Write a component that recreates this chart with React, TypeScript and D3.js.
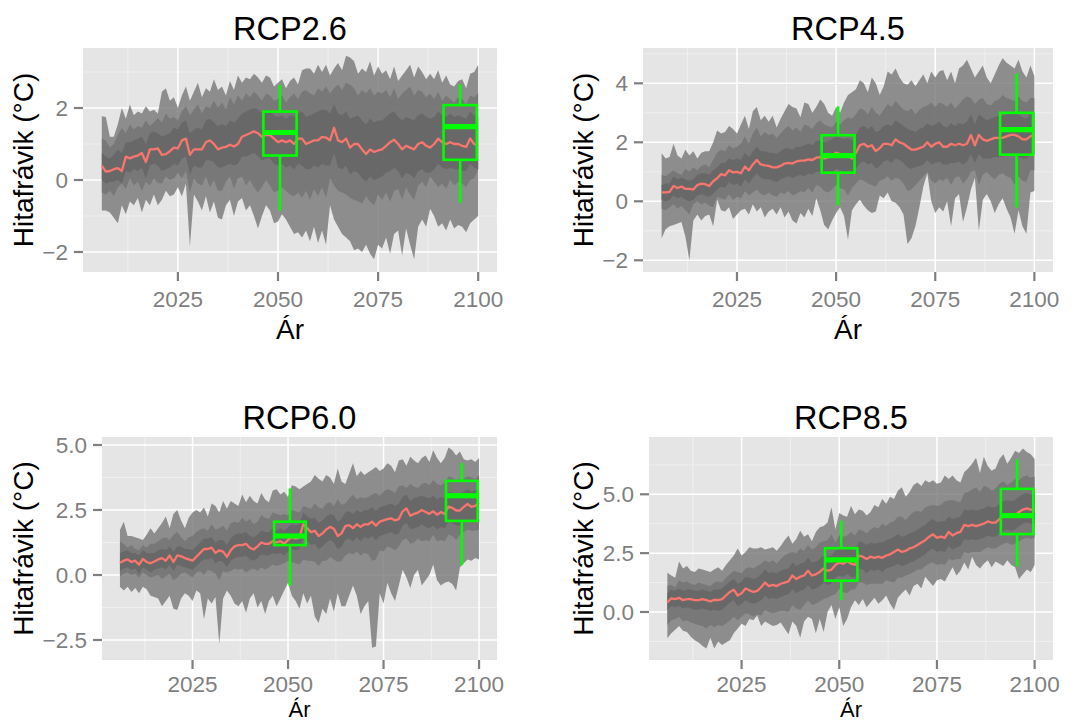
import React from "react";
import * as d3 from "d3";

// ---------------- DATA ----------------
const firstYear = 2006; // series run 2006..2100, one value per year
const xTicks = [2025, 2050, 2075, 2100];
const boxCenters = [2050.5, 2095.5];
const titles = ["RCP2.6", "RCP4.5", "RCP6.0", "RCP8.5"];
const xTitle = "\u00C1r";
const yTitle = "Hitafr\u00E1vik (\u00B0C)";

const yTicks26 = [-2, 0, 2];
const yTicks45 = [-2, 0, 2, 4];
const yTicks60 = [-2.5, 0, 2.5, 5];
const yTicks85 = [0, 2.5, 5];

// RCP2.6
const rcp26Mean = [
  0.40,0.23,0.25,0.30,0.33,0.25,0.65,0.60,0.65,0.68,
  0.75,0.50,0.85,0.85,0.88,0.70,0.72,0.80,0.90,0.88,
  1.10,1.15,0.70,0.85,0.85,0.85,1.05,1.10,1.00,0.85,
  0.90,0.92,0.98,0.93,1.00,1.20,1.25,1.30,1.35,1.30,
  1.20,1.25,1.25,1.15,1.05,1.10,1.05,1.10,1.00,1.15,
  1.15,1.00,1.05,1.10,1.10,1.20,1.18,1.10,1.45,1.10,
  1.05,1.15,0.90,1.00,1.00,0.85,0.72,0.85,0.78,0.82,
  0.85,0.95,1.05,1.12,1.00,0.85,0.95,0.90,0.85,1.00,
  1.05,0.95,0.90,1.00,1.15,1.05,1.00,1.05,1.00,1.00,
  0.95,0.92,1.15,1.00,0.95];
const rcp26OuterHi = [
  1.77,1.75,1.20,1.20,1.55,2.00,1.70,2.10,1.80,1.90,
  1.85,2.05,1.90,1.95,1.85,2.45,2.55,2.20,2.30,2.00,
  2.35,2.60,2.20,2.45,2.70,2.30,2.55,2.45,2.80,2.50,
  2.60,2.35,2.75,2.50,2.90,2.70,2.85,2.80,2.95,2.85,
  2.70,2.90,2.85,2.60,2.70,2.80,2.55,2.75,2.85,2.65,
  3.05,3.10,3.10,2.95,3.20,3.00,3.20,2.90,3.10,3.25,
  3.05,3.45,3.40,3.30,2.95,3.10,3.00,3.30,2.90,3.15,
  2.95,3.05,2.80,3.15,2.75,2.90,3.05,3.20,2.85,3.15,
  3.00,2.80,2.95,2.80,3.05,2.70,2.90,2.65,2.60,2.75,
  2.80,2.55,2.95,3.00,3.20];
const rcp26OuterLo = [
  -0.85,-0.85,-0.90,-1.05,-1.20,-0.70,-0.95,-0.60,-0.70,-0.50,
  -0.90,-0.55,-0.70,-0.40,-0.70,-0.55,-0.30,-0.45,-0.40,-0.20,
  -0.45,-0.10,-1.85,-0.40,-0.60,-0.85,-0.45,-0.90,-0.60,-1.05,
  -1.10,-0.70,-0.55,-1.00,-0.60,-0.50,-0.85,-0.70,-1.00,-1.35,
  -1.00,-0.70,-0.85,-1.20,-1.15,-0.95,-1.10,-1.30,-1.50,-1.45,
  -1.60,-1.40,-1.70,-1.30,-1.75,-1.40,-1.80,-0.70,-1.10,-1.30,
  -1.50,-1.60,-1.70,-1.95,-1.90,-2.00,-1.80,-2.05,-2.20,-1.80,
  -1.90,-1.60,-2.05,-1.50,-1.40,-2.10,-1.35,-1.80,-2.20,-1.30,
  -1.10,-1.30,-0.80,-1.00,-1.30,-1.20,-1.40,-1.10,-1.35,-1.25,
  -1.30,-1.45,-1.20,-1.10,-1.00];
const rcp26MidHi = [
  1.15,1.10,0.90,1.00,1.25,1.45,1.30,1.55,1.40,1.50,
  1.45,1.65,1.50,1.60,1.72,1.60,1.85,1.70,1.75,1.65,
  1.90,2.05,1.80,1.95,2.10,1.85,2.05,2.00,2.20,2.00,
  2.15,1.95,2.30,2.10,2.35,2.20,2.40,2.30,2.45,2.35,
  2.20,2.40,2.35,2.20,2.25,2.35,2.15,2.30,2.40,2.25,
  2.45,2.50,2.40,2.35,2.55,2.45,2.60,2.40,2.55,2.65,
  2.50,2.70,2.65,2.55,2.35,2.50,2.40,2.55,2.35,2.45,
  2.40,2.50,2.30,2.55,2.25,2.40,2.50,2.60,2.35,2.50,
  2.45,2.30,2.40,2.25,2.45,2.20,2.35,2.25,2.15,2.30,
  2.25,2.10,2.35,2.30,2.40];
const rcp26MidLo = [
  -0.35,-0.40,-0.30,-0.45,-0.20,-0.10,-0.25,0.05,-0.15,-0.05,
  -0.30,-0.05,-0.15,0.05,-0.08,-0.10,0.10,0.00,0.05,0.20,
  0.05,0.25,-0.35,0.05,-0.10,-0.15,0.10,-0.20,0.00,-0.30,
  -0.30,-0.05,0.10,-0.25,0.05,0.10,-0.15,0.00,-0.20,-0.35,
  -0.20,0.00,-0.15,-0.35,-0.30,-0.20,-0.30,-0.40,-0.45,-0.35,
  -0.50,-0.30,-0.55,-0.25,-0.45,-0.20,-0.50,0.05,-0.15,-0.30,
  -0.35,-0.40,-0.50,-0.55,-0.60,-0.65,-0.45,-0.60,-0.70,-0.40,
  -0.55,-0.35,-0.60,-0.30,-0.25,-0.55,-0.20,-0.40,-0.55,-0.15,
  -0.05,-0.20,0.10,-0.05,-0.20,-0.10,-0.25,0.00,-0.15,-0.05,
  -0.10,-0.20,0.00,0.05,0.30];
const rcp26InnerHi = [
  0.75,0.65,0.60,0.70,0.85,0.75,1.05,1.05,1.10,1.15,
  1.20,1.00,1.30,1.35,1.30,1.20,1.25,1.30,1.45,1.40,
  1.60,1.65,1.30,1.40,1.45,1.40,1.65,1.70,1.60,1.50,
  1.55,1.50,1.65,1.60,1.70,1.85,1.90,1.95,2.00,1.95,
  1.85,1.95,1.90,1.80,1.75,1.80,1.70,1.80,1.75,1.85,
  1.90,1.75,1.80,1.85,1.90,1.95,1.95,1.85,2.10,1.85,
  1.80,1.90,1.70,1.75,1.80,1.65,1.55,1.70,1.60,1.65,
  1.65,1.75,1.85,1.90,1.75,1.65,1.75,1.70,1.65,1.80,
  1.85,1.75,1.70,1.75,1.90,1.80,1.75,1.85,1.75,1.80,
  1.75,1.70,1.90,1.80,1.75];
const rcp26InnerLo = [
  0.00,-0.10,-0.05,-0.05,0.00,-0.10,0.25,0.20,0.30,0.25,
  0.35,0.05,0.40,0.45,0.40,0.25,0.30,0.35,0.45,0.40,
  0.60,0.65,0.15,0.40,0.35,0.35,0.55,0.55,0.50,0.35,
  0.35,0.40,0.45,0.40,0.45,0.65,0.65,0.70,0.75,0.65,
  0.55,0.60,0.60,0.45,0.40,0.45,0.35,0.40,0.30,0.45,
  0.40,0.30,0.30,0.40,0.35,0.45,0.40,0.40,0.75,0.35,
  0.30,0.40,0.15,0.25,0.20,0.05,-0.05,0.10,0.00,0.05,
  0.10,0.20,0.25,0.35,0.25,0.05,0.20,0.15,0.05,0.25,
  0.30,0.20,0.20,0.30,0.45,0.35,0.30,0.35,0.30,0.30,
  0.25,0.25,0.45,0.35,0.30];
// box stats: [low whisker, q1, median, q3, high whisker]
const rcp26Box2050 = [-0.85, 0.68, 1.32, 1.90, 2.64];
const rcp26Box2100 = [-0.63, 0.56, 1.48, 2.08, 2.66];

// RCP4.5
const rcp45Mean = [
  0.30,0.30,0.32,0.52,0.45,0.50,0.42,0.42,0.40,0.55,
  0.60,0.58,0.52,0.68,0.78,0.92,0.88,1.05,0.98,1.00,
  0.95,1.18,1.05,1.25,1.40,1.25,1.22,1.20,1.15,1.15,
  1.20,1.28,1.30,1.28,1.35,1.38,1.38,1.42,1.40,1.48,
  1.50,1.45,1.50,1.55,1.65,1.60,1.55,1.55,1.45,1.65,
  1.90,1.95,1.85,1.90,1.70,1.80,1.95,1.95,1.90,2.10,
  2.00,1.95,1.85,1.75,1.75,1.80,1.85,2.00,1.85,1.95,
  2.00,1.85,1.85,1.95,1.90,1.95,1.90,1.95,2.25,1.90,
  2.25,2.10,2.05,2.10,2.15,2.15,2.15,2.20,2.25,2.25,
  2.20,2.10,2.10,2.20,2.25];
const rcp45OuterHi = [
  1.63,1.45,1.50,1.95,1.55,1.45,1.75,1.55,1.70,1.45,
  1.65,1.70,1.70,2.00,2.40,2.30,2.35,2.55,2.45,2.30,
  2.60,2.90,2.45,3.05,3.20,2.75,2.90,2.70,2.90,2.50,
  2.80,3.05,3.30,3.20,3.15,2.85,3.35,3.30,3.00,3.20,
  3.45,3.30,3.00,2.90,3.20,3.00,3.35,3.60,3.70,3.80,
  4.10,4.00,3.70,4.20,4.00,3.60,3.90,4.40,4.30,4.50,
  4.20,4.00,3.95,4.10,3.90,4.10,4.30,4.00,4.40,4.20,
  4.40,4.45,4.10,4.40,4.00,4.50,4.60,4.80,4.50,4.20,
  4.40,4.60,4.20,4.00,4.30,4.60,4.85,4.70,4.60,4.50,
  4.80,4.40,4.20,4.60,4.25];
const rcp45OuterLo = [
  -1.25,-0.95,-0.85,-0.80,-0.75,-0.70,-1.20,-2.00,-0.65,-0.45,
  -0.65,-0.50,-0.45,-0.85,0.05,-0.30,-0.35,-0.20,-0.60,-0.45,
  -0.30,-0.25,-0.45,-0.10,-0.35,-0.20,-0.55,-0.35,-0.25,-0.45,
  -0.20,-0.55,-0.35,-0.65,-0.75,-0.40,-0.55,-0.25,-0.50,0.10,
  -0.30,-0.80,-0.95,-0.65,-0.40,-0.20,-0.50,-1.30,-0.30,-0.10,
  0.05,-0.15,-0.30,-0.40,-0.35,0.20,0.10,0.30,0.00,-0.05,
  -0.20,-0.45,-1.45,-1.25,-0.85,-0.20,0.50,0.95,0.00,-0.40,
  -0.20,-0.35,0.00,-0.85,0.10,0.25,-0.70,-0.20,0.40,0.80,
  -1.00,0.05,0.25,0.00,-0.40,-0.10,0.10,-0.25,-0.55,-1.10,
  -0.30,-0.85,-1.10,0.30,0.35];
const rcp45MidHi = [
  0.90,0.85,0.95,1.05,0.95,0.90,1.10,1.00,1.15,1.05,
  1.20,1.25,1.15,1.40,1.65,1.75,1.70,1.90,1.80,1.85,
  1.95,2.20,1.95,2.30,2.50,2.20,2.35,2.25,2.30,2.15,
  2.30,2.45,2.55,2.40,2.50,2.35,2.60,2.55,2.45,2.65,
  2.75,2.60,2.55,2.50,2.70,2.60,2.75,2.85,2.80,2.95,
  3.15,3.10,2.95,3.20,3.00,2.90,3.10,3.30,3.20,3.40,
  3.25,3.10,3.05,3.15,2.95,3.10,3.20,3.25,3.35,3.20,
  3.35,3.30,3.20,3.35,3.15,3.30,3.45,3.55,3.50,3.30,
  3.45,3.50,3.30,3.25,3.40,3.45,3.60,3.50,3.45,3.40,
  3.55,3.40,3.35,3.50,3.50];
const rcp45MidLo = [
  -0.25,-0.30,-0.20,-0.10,-0.25,-0.15,-0.30,-0.45,-0.10,0.00,
  -0.10,-0.05,-0.15,-0.20,0.15,0.10,0.05,0.25,0.05,0.15,
  0.10,0.35,0.20,0.30,0.40,0.25,0.20,0.30,0.20,0.15,
  0.30,0.25,0.35,0.20,0.25,0.35,0.30,0.45,0.30,0.55,
  0.50,0.35,0.30,0.40,0.55,0.45,0.40,0.20,0.45,0.60,
  0.75,0.70,0.60,0.55,0.50,0.70,0.75,0.85,0.70,0.80,
  0.75,0.60,0.35,0.40,0.55,0.70,0.85,1.00,0.70,0.60,
  0.75,0.70,0.80,0.55,0.80,0.85,0.60,0.75,1.00,1.05,
  0.55,0.90,1.00,0.85,0.75,0.90,0.95,0.85,0.80,0.55,
  0.85,0.70,0.65,1.05,1.05];
const rcp45InnerHi = [
  0.55,0.60,0.60,0.85,0.75,0.80,0.75,0.70,0.75,0.90,
  0.95,0.95,0.90,1.05,1.15,1.30,1.30,1.45,1.40,1.45,
  1.40,1.65,1.50,1.70,1.85,1.70,1.70,1.65,1.65,1.60,
  1.70,1.80,1.80,1.75,1.85,1.85,1.90,1.95,1.90,2.05,
  2.05,2.00,2.05,2.10,2.20,2.15,2.10,2.15,2.05,2.25,
  2.50,2.55,2.45,2.55,2.35,2.40,2.55,2.60,2.55,2.75,
  2.65,2.55,2.45,2.40,2.35,2.45,2.50,2.65,2.55,2.60,
  2.70,2.55,2.50,2.65,2.55,2.65,2.60,2.70,2.95,2.60,
  2.95,2.85,2.75,2.80,2.85,2.90,2.90,2.95,3.00,2.95,
  2.95,2.85,2.80,2.95,3.00];
const rcp45InnerLo = [
  0.05,0.00,0.05,0.20,0.10,0.15,0.05,0.00,0.05,0.20,
  0.25,0.20,0.15,0.25,0.40,0.50,0.45,0.65,0.55,0.60,
  0.50,0.75,0.60,0.80,0.95,0.80,0.75,0.75,0.70,0.65,
  0.75,0.80,0.85,0.80,0.85,0.90,0.85,0.95,0.90,1.00,
  1.00,0.95,0.95,1.00,1.10,1.05,1.00,0.95,0.90,1.10,
  1.30,1.35,1.25,1.30,1.10,1.20,1.35,1.40,1.30,1.45,
  1.40,1.30,1.15,1.10,1.15,1.20,1.25,1.40,1.25,1.30,
  1.35,1.25,1.25,1.30,1.30,1.35,1.25,1.35,1.60,1.30,
  1.60,1.45,1.45,1.45,1.50,1.50,1.50,1.55,1.55,1.55,
  1.50,1.45,1.45,1.55,1.60];
const rcp45Box2050 = [-0.14, 0.97, 1.55, 2.24, 3.22];
const rcp45Box2100 = [-0.21, 1.58, 2.43, 3.00, 4.33];

// RCP6.0
const rcp60Mean = [
  0.47,0.55,0.60,0.50,0.55,0.40,0.62,0.50,0.45,0.52,
  0.60,0.65,0.55,0.75,0.50,0.75,0.72,0.65,0.60,0.55,
  0.70,0.85,1.00,1.00,1.05,0.85,0.95,0.90,0.70,0.95,
  1.10,1.15,1.15,1.20,1.05,0.98,1.10,1.25,1.20,1.20,
  1.30,1.25,1.30,1.20,1.35,1.45,1.40,1.45,1.95,1.80,
  1.65,1.70,1.50,1.60,1.75,1.85,1.78,1.50,1.60,1.88,
  1.92,1.80,1.95,1.85,1.95,1.95,2.05,1.90,2.05,2.10,
  2.15,2.18,2.10,2.15,2.45,2.56,2.28,2.35,2.40,2.50,
  2.42,2.35,2.45,2.32,2.42,2.35,2.63,2.58,2.48,2.48,
  2.62,2.73,2.62,2.66,2.78];
const rcp60OuterHi = [
  1.73,2.05,1.50,1.50,1.45,1.40,1.35,1.55,1.80,1.60,
  1.80,2.00,2.25,1.80,2.35,2.50,2.10,1.80,2.20,2.40,
  2.50,2.40,2.60,2.25,2.75,2.65,2.40,2.85,2.55,2.85,
  2.75,2.65,3.10,2.80,3.05,2.85,2.75,3.15,2.90,2.80,
  3.25,3.30,3.10,3.20,3.00,3.45,3.40,3.30,3.40,3.50,
  3.60,3.85,3.70,3.60,3.85,3.75,3.50,4.10,3.60,3.50,
  3.90,4.30,3.80,4.00,3.85,3.95,4.05,4.15,4.00,4.10,
  4.30,4.20,3.95,4.40,4.45,4.20,4.55,4.40,4.30,4.50,
  4.60,4.35,4.80,4.50,4.30,4.50,4.90,4.80,4.60,4.75,
  4.45,4.40,4.45,4.35,4.50];
const rcp60OuterLo = [
  -0.45,-0.60,-0.45,-0.65,-0.50,-0.70,-0.45,-0.55,-0.80,-0.85,
  -0.90,-1.20,-1.00,-0.80,-1.30,-1.35,-0.90,-0.70,-0.80,-1.00,
  -0.60,-0.70,-1.70,-0.90,-1.10,-0.85,-2.65,-0.90,-0.60,-0.80,
  -1.10,-1.20,-1.00,-1.45,-0.90,-0.70,-1.25,-1.00,-1.50,-1.00,
  -0.80,-1.20,-0.90,-0.60,-0.30,-0.80,-1.00,-1.30,-0.70,-1.10,
  -0.80,-1.60,-1.85,-1.30,-1.50,-0.90,-1.40,-0.70,-1.20,-1.20,
  -0.80,-0.40,-0.80,-1.50,-1.20,-1.00,-2.80,-2.75,-0.70,-1.10,
  -0.30,-0.70,-1.00,-0.40,0.20,-0.10,-0.50,0.00,0.20,-0.40,
  -0.20,0.00,0.40,-0.20,-0.40,-0.30,-0.25,-0.35,-0.60,0.30,
  0.45,0.60,0.55,0.65,0.60];
const rcp60MidHi = [
  1.30,1.20,1.05,1.15,1.00,0.95,1.15,1.05,1.20,1.20,
  1.30,1.40,1.45,1.35,1.55,1.65,1.45,1.30,1.45,1.50,
  1.65,1.75,1.80,1.70,1.95,1.75,1.80,1.90,1.70,2.00,
  2.05,2.00,2.20,2.05,2.15,1.95,2.05,2.30,2.20,2.15,
  2.40,2.35,2.30,2.35,2.30,2.50,2.45,2.40,2.65,2.60,
  2.55,2.75,2.60,2.55,2.75,2.80,2.65,2.90,2.70,2.75,
  2.95,3.10,2.90,3.00,2.95,3.00,3.10,3.15,3.05,3.20,
  3.30,3.25,3.15,3.40,3.45,3.35,3.50,3.40,3.35,3.50,
  3.55,3.45,3.65,3.50,3.45,3.55,3.80,3.75,3.65,3.70,
  3.70,3.80,3.75,3.70,3.85];
const rcp60MidLo = [
  -0.05,0.05,0.10,0.00,0.05,-0.10,0.10,0.00,-0.10,-0.05,
  0.00,-0.15,-0.05,0.05,-0.20,-0.10,0.05,0.10,0.00,-0.10,
  0.10,0.15,0.00,0.20,0.15,0.05,-0.20,0.15,0.10,0.15,
  0.25,0.20,0.25,0.10,0.20,0.25,0.15,0.30,0.20,0.30,
  0.40,0.35,0.40,0.45,0.55,0.50,0.45,0.40,0.60,0.55,
  0.55,0.50,0.35,0.55,0.55,0.70,0.60,0.50,0.55,0.75,
  0.85,0.80,0.90,0.75,0.85,0.80,0.55,0.60,0.95,0.90,
  1.10,1.05,0.95,1.10,1.35,1.40,1.20,1.25,1.40,1.30,
  1.35,1.30,1.55,1.30,1.35,1.30,1.55,1.50,1.35,1.55,
  1.65,1.75,1.70,1.70,1.75];
const rcp60InnerHi = [
  0.85,0.90,0.95,0.85,0.85,0.75,0.95,0.85,0.85,0.85,
  0.95,1.00,0.95,1.10,0.90,1.10,1.10,1.00,1.00,0.95,
  1.10,1.25,1.40,1.40,1.45,1.25,1.35,1.35,1.15,1.40,
  1.55,1.60,1.60,1.65,1.50,1.45,1.55,1.70,1.65,1.65,
  1.80,1.70,1.80,1.70,1.85,1.95,1.90,1.95,2.40,2.25,
  2.15,2.20,2.00,2.10,2.25,2.35,2.30,2.05,2.15,2.40,
  2.45,2.35,2.50,2.40,2.50,2.50,2.60,2.45,2.60,2.65,
  2.70,2.75,2.65,2.75,3.00,3.10,2.85,2.95,3.00,3.05,
  3.00,2.95,3.05,2.90,3.00,2.95,3.20,3.15,3.10,3.10,
  3.20,3.30,3.20,3.25,3.30];
const rcp60InnerLo = [
  0.15,0.25,0.30,0.20,0.25,0.05,0.30,0.20,0.10,0.20,
  0.25,0.30,0.20,0.40,0.15,0.40,0.35,0.30,0.25,0.20,
  0.35,0.50,0.60,0.60,0.65,0.45,0.55,0.50,0.30,0.55,
  0.65,0.70,0.70,0.75,0.60,0.55,0.65,0.80,0.75,0.75,
  0.85,0.80,0.85,0.75,0.90,1.00,0.95,1.00,1.45,1.30,
  1.15,1.20,1.00,1.10,1.25,1.35,1.25,1.00,1.10,1.35,
  1.40,1.30,1.45,1.30,1.45,1.40,1.50,1.35,1.50,1.55,
  1.60,1.65,1.55,1.60,1.90,2.00,1.75,1.80,1.85,1.95,
  1.85,1.80,1.90,1.75,1.85,1.80,2.05,2.00,1.90,1.90,
  2.05,2.15,2.05,2.10,2.25];
const rcp60Box2050 = [-0.42, 1.15, 1.50, 2.05, 3.33];
const rcp60Box2100 = [0.38, 2.08, 3.05, 3.62, 4.30];

// RCP8.5
const rcp85Mean = [
  0.40,0.58,0.55,0.60,0.50,0.55,0.55,0.50,0.50,0.55,
  0.50,0.45,0.52,0.50,0.55,0.70,0.85,0.95,0.70,0.80,
  1.00,0.92,0.85,0.90,1.05,1.25,1.10,1.15,1.10,1.20,
  1.25,1.30,1.55,1.40,1.50,1.55,1.75,1.55,1.60,1.70,
  1.85,1.75,1.80,2.00,2.10,2.05,2.15,2.05,2.00,2.40,
  2.35,2.25,2.35,2.30,2.35,2.30,2.40,2.45,2.55,2.65,
  2.55,2.60,2.70,2.75,2.85,2.95,3.05,3.20,3.30,3.15,
  3.20,3.15,3.40,3.25,3.35,3.40,3.70,3.65,3.70,3.65,
  3.70,3.75,3.85,3.80,3.80,3.95,4.05,4.10,4.05,4.10,
  4.25,4.35,4.40,4.35,4.35];
const rcp85OuterHi = [
  1.67,1.55,1.45,2.15,1.85,1.95,1.75,1.70,1.85,1.80,
  1.75,1.70,1.80,1.90,1.75,2.00,2.20,2.40,2.70,2.40,
  2.55,2.75,2.70,2.70,2.75,2.65,2.70,2.75,2.60,2.80,
  3.05,3.25,2.90,3.10,3.45,3.20,3.30,3.00,3.40,3.60,
  3.65,3.80,4.45,3.50,4.20,4.10,4.05,4.50,4.15,4.35,
  4.30,4.10,4.25,4.55,4.45,4.80,4.60,4.90,4.80,5.15,
  5.30,4.90,5.10,5.40,5.50,5.35,5.60,5.50,5.60,5.45,
  5.50,5.80,5.65,5.80,5.60,5.50,5.95,6.10,6.30,6.55,
  5.90,6.60,6.20,6.00,6.10,6.50,6.70,6.30,6.55,6.85,
  6.75,6.95,6.80,6.70,6.50];
const rcp85OuterLo = [
  -1.12,-0.90,-0.75,-0.60,-0.80,-0.85,-1.05,-1.20,-1.30,-1.45,
  -1.55,-1.10,-1.55,-1.25,-1.40,-1.30,-1.20,-0.90,-0.70,-0.50,
  -0.60,-0.30,-0.35,-0.15,-0.60,-0.40,-0.50,-0.60,-0.55,-0.45,
  -0.70,-0.95,-0.40,-0.60,-1.10,-0.40,-0.20,-0.30,-0.90,-0.30,
  -0.85,0.00,0.30,-0.30,0.20,-0.60,-0.30,0.20,0.50,0.30,
  0.55,0.20,0.40,0.60,0.35,0.50,0.70,0.35,0.10,0.60,
  0.80,0.95,0.70,1.10,1.20,1.00,1.50,1.30,1.10,1.35,
  1.40,1.30,1.60,1.90,1.55,1.75,2.10,1.80,2.35,2.00,
  1.85,2.05,2.20,1.90,2.15,2.05,1.95,2.20,2.00,1.90,
  1.40,1.60,1.80,1.70,2.00];
const rcp85MidHi = [
  1.10,1.15,1.05,1.35,1.25,1.30,1.20,1.15,1.25,1.20,
  1.15,1.10,1.25,1.30,1.25,1.45,1.60,1.75,1.70,1.65,
  1.85,1.90,1.85,1.95,2.05,2.20,2.10,2.20,2.05,2.25,
  2.40,2.50,2.55,2.50,2.70,2.60,2.85,2.65,2.75,2.95,
  3.00,3.05,3.30,2.95,3.25,3.20,3.25,3.40,3.25,3.50,
  3.45,3.35,3.50,3.60,3.55,3.75,3.65,3.80,3.85,4.05,
  4.05,3.90,4.10,4.25,4.30,4.25,4.45,4.50,4.55,4.50,
  4.55,4.70,4.75,4.75,4.70,4.65,5.05,5.10,5.20,5.30,
  5.10,5.35,5.30,5.15,5.25,5.45,5.55,5.40,5.50,5.65,
  5.60,5.75,5.80,5.70,5.75];
const rcp85MidLo = [
  -0.55,-0.35,-0.30,-0.20,-0.40,-0.35,-0.45,-0.50,-0.55,-0.60,
  -0.70,-0.55,-0.65,-0.55,-0.60,-0.50,-0.35,-0.20,-0.35,-0.20,
  -0.05,-0.10,-0.20,-0.10,-0.15,0.10,0.00,-0.05,0.00,0.05,
  0.05,0.00,0.30,0.15,0.10,0.30,0.50,0.30,0.35,0.45,
  0.55,0.60,0.70,0.75,1.00,0.85,0.80,0.95,0.95,1.25,
  1.25,1.15,1.20,1.20,1.20,1.20,1.35,1.30,1.25,1.45,
  1.45,1.55,1.60,1.70,1.80,1.80,1.95,2.05,2.10,2.00,
  2.05,2.00,2.25,2.20,2.25,2.25,2.55,2.50,2.55,2.55,
  2.55,2.65,2.75,2.70,2.70,2.80,2.90,2.95,2.85,2.90,
  3.00,3.10,3.15,3.10,3.15];
const rcp85InnerHi = [
  0.80,0.95,0.90,1.00,0.90,0.95,0.95,0.90,0.90,0.95,
  0.90,0.85,0.95,0.95,1.00,1.15,1.30,1.40,1.20,1.30,
  1.50,1.45,1.40,1.45,1.60,1.80,1.65,1.70,1.65,1.75,
  1.80,1.85,2.10,1.95,2.05,2.10,2.30,2.10,2.15,2.25,
  2.40,2.35,2.40,2.60,2.70,2.65,2.75,2.65,2.60,3.00,
  2.95,2.85,2.95,2.90,2.95,2.95,3.05,3.10,3.20,3.30,
  3.20,3.25,3.35,3.40,3.50,3.60,3.70,3.85,3.95,3.80,
  3.85,3.85,4.05,3.95,4.00,4.05,4.35,4.30,4.35,4.30,
  4.35,4.40,4.50,4.45,4.45,4.60,4.70,4.75,4.70,4.75,
  4.90,5.00,5.05,5.00,5.00];
const rcp85InnerLo = [
  0.10,0.25,0.20,0.25,0.15,0.20,0.15,0.10,0.10,0.15,
  0.10,0.05,0.10,0.05,0.10,0.25,0.40,0.50,0.25,0.35,
  0.50,0.40,0.35,0.40,0.50,0.70,0.55,0.60,0.55,0.65,
  0.70,0.75,0.95,0.80,0.90,0.95,1.15,0.95,1.00,1.10,
  1.25,1.15,1.20,1.45,1.55,1.50,1.60,1.50,1.45,1.85,
  1.80,1.65,1.80,1.75,1.80,1.70,1.85,1.90,1.95,2.05,
  1.95,2.00,2.10,2.15,2.25,2.35,2.45,2.60,2.70,2.55,
  2.60,2.55,2.80,2.65,2.75,2.80,3.10,3.05,3.10,3.05,
  3.10,3.15,3.25,3.20,3.20,3.35,3.45,3.50,3.45,3.50,
  3.65,3.75,3.80,3.75,3.75];
const rcp85Box2050 = [0.51, 1.33, 2.21, 2.71, 3.88];
const rcp85Box2100 = [1.93, 3.31, 4.09, 5.23, 6.49];

// ---------------- LAYOUT / STYLE ----------------
const FONT = '"Liberation Sans", Arial, Helvetica, sans-serif';
const W = 1084;
const H = 722;
const X_DOMAIN: [number, number] = [2001.3, 2104.7];
const BOX_WIDTH_YEARS = 8.3;

type Panel = {
  title: string;
  yTicks: number[];
  yDomain: [number, number];
  rect: { x0: number; x1: number; y0: number; y1: number };
  titleY: number;
  xLabelOffset: number;
  xTitleY: number;
  xTitleSize: number;
  yTitleX: number;
  mean: number[];
  outer: [number[], number[]];
  mid: [number[], number[]];
  inner: [number[], number[]];
  boxes: number[][];
};

const panels: Panel[] = [
  {
    title: titles[0], yTicks: yTicks26, yDomain: [-2.556, 3.667],
    rect: { x0: 83, x1: 497, y0: 48, y1: 272 }, titleY: 39.5, xLabelOffset: 34.5, xTitleY: 339, xTitleSize: 28, yTitleX: 33,
    mean: rcp26Mean, outer: [rcp26OuterLo, rcp26OuterHi], mid: [rcp26MidLo, rcp26MidHi],
    inner: [rcp26InnerLo, rcp26InnerHi], boxes: [rcp26Box2050, rcp26Box2100],
  },
  {
    title: titles[1], yTicks: yTicks45, yDomain: [-2.397, 5.197],
    rect: { x0: 643, x1: 1053, y0: 48, y1: 272 }, titleY: 39.5, xLabelOffset: 34.5, xTitleY: 339, xTitleSize: 28, yTitleX: 593,
    mean: rcp45Mean, outer: [rcp45OuterLo, rcp45OuterHi], mid: [rcp45MidLo, rcp45MidHi],
    inner: [rcp45InnerLo, rcp45InnerHi], boxes: [rcp45Box2050, rcp45Box2100],
  },
  {
    title: titles[2], yTicks: yTicks60, yDomain: [-3.27, 5.308],
    rect: { x0: 102, x1: 497, y0: 437, y1: 660 }, titleY: 428.5, xLabelOffset: 32, xTitleY: 717, xTitleSize: 22, yTitleX: 33,
    mean: rcp60Mean, outer: [rcp60OuterLo, rcp60OuterHi], mid: [rcp60MidLo, rcp60MidHi],
    inner: [rcp60InnerLo, rcp60InnerHi], boxes: [rcp60Box2050, rcp60Box2100],
  },
  {
    title: titles[3], yTicks: yTicks85, yDomain: [-2.04, 7.434],
    rect: { x0: 649, x1: 1053, y0: 437, y1: 660 }, titleY: 428.5, xLabelOffset: 32, xTitleY: 717, xTitleSize: 22, yTitleX: 593,
    mean: rcp85Mean, outer: [rcp85OuterLo, rcp85OuterHi], mid: [rcp85MidLo, rcp85MidHi],
    inner: [rcp85InnerLo, rcp85InnerHi], boxes: [rcp85Box2050, rcp85Box2100],
  },
];

function fmtY(v: number, ticks: number[]) {
  const decimals = ticks.some((t) => !Number.isInteger(t)) ? 1 : 0;
  const s = Math.abs(v).toFixed(decimals);
  return v < 0 ? "\u2212" + s : s;
}

function PanelView({ p }: { p: Panel }) {
  const { x0, x1, y0, y1 } = p.rect;
  const x = d3.scaleLinear().domain(X_DOMAIN).range([x0, x1]);
  const y = d3.scaleLinear().domain(p.yDomain).range([y1, y0]);
  const yr = (i: number) => firstYear + i;

  const band = (lo: number[], hi: number[]) => {
    const n = Math.min(lo.length, hi.length);
    const idx = d3.range(n);
    return d3
      .area<number>()
      .x((i) => x(yr(i)))
      .y0((i) => y(lo[i]))
      .y1((i) => y(hi[i]))(idx) as string;
  };
  const meanPath = d3
    .line<number>()
    .x((_, i) => x(yr(i)))
    .y((d) => y(d))(p.mean) as string;

  const tStep = p.yTicks[1] - p.yTicks[0];
  const yMinor: number[] = [];
  for (let v = p.yTicks[0] - tStep / 2; v <= p.yDomain[1]; v += tStep) {
    if (v >= p.yDomain[0]) yMinor.push(v);
  }
  const xStep = xTicks[1] - xTicks[0];
  const xMinor: number[] = [];
  for (let v = xTicks[0] - xStep / 2; v <= X_DOMAIN[1]; v += xStep) {
    if (v >= X_DOMAIN[0]) xMinor.push(v);
  }

  const cx = (x0 + x1) / 2;
  const cy = (y0 + y1) / 2;
  const tickLen = 9;
  const grey = "#7f7f7f";

  return (
    <g>
      <rect x={x0} y={y0} width={x1 - x0} height={y1 - y0} fill="#e5e5e5" />
      {yMinor.map((v) => (
        <line key={"ym" + v} x1={x0} x2={x1} y1={y(v)} y2={y(v)} stroke="#f2f2f2" strokeWidth={0.8} />
      ))}
      {xMinor.map((v) => (
        <line key={"xm" + v} x1={x(v)} x2={x(v)} y1={y0} y2={y1} stroke="#f2f2f2" strokeWidth={0.8} />
      ))}
      {p.yTicks.map((v) => (
        <line key={"yM" + v} x1={x0} x2={x1} y1={y(v)} y2={y(v)} stroke="#ffffff" strokeWidth={1.5} />
      ))}
      {xTicks.map((v) => (
        <line key={"xM" + v} x1={x(v)} x2={x(v)} y1={y0} y2={y1} stroke="#ffffff" strokeWidth={1.5} />
      ))}

      <path d={band(p.outer[0], p.outer[1])} fill="rgb(119,119,119)" fillOpacity={0.8} />
      <path d={band(p.mid[0], p.mid[1])} fill="rgb(115,115,115)" fillOpacity={0.8} />
      <path d={band(p.inner[0], p.inner[1])} fill="rgb(100,100,100)" fillOpacity={0.8} />
      <path d={meanPath} fill="none" stroke="#f8766d" strokeWidth={2.3} strokeLinejoin="round" />

      {p.boxes.map((b, k) => {
        const c = boxCenters[k];
        const bx0 = x(c - BOX_WIDTH_YEARS / 2);
        const bx1 = x(c + BOX_WIDTH_YEARS / 2);
        const xc = x(c);
        const [lo, q1, med, q3, hi] = b;
        return (
          <g key={"box" + k} stroke="#00ff00" fill="none">
            <line x1={xc} x2={xc} y1={y(hi)} y2={y(q3)} strokeWidth={2.6} />
            <line x1={xc} x2={xc} y1={y(q1)} y2={y(lo)} strokeWidth={2.6} />
            <rect x={bx0} y={y(q3)} width={bx1 - bx0} height={y(q1) - y(q3)} strokeWidth={2.6} />
            <line x1={bx0} x2={bx1} y1={y(med)} y2={y(med)} strokeWidth={5.2} />
          </g>
        );
      })}

      {p.yTicks.map((v) => (
        <g key={"yt" + v}>
          <line x1={x0 - tickLen} x2={x0} y1={y(v)} y2={y(v)} stroke={grey} strokeWidth={2.2} />
          <text x={x0 - tickLen - 6} y={y(v)} dy="0.36em" textAnchor="end" fontSize={22.5} fill={grey} fontFamily={FONT}>
            {fmtY(v, p.yTicks)}
          </text>
        </g>
      ))}
      {xTicks.map((v) => (
        <g key={"xt" + v}>
          <line x1={x(v)} x2={x(v)} y1={y1} y2={y1 + tickLen} stroke={grey} strokeWidth={2.2} />
          <text x={x(v)} y={y1 + p.xLabelOffset} textAnchor="middle" fontSize={22.5} fill={grey} fontFamily={FONT}>
            {v}
          </text>
        </g>
      ))}

      <text x={cx} y={p.titleY} textAnchor="middle" fontSize={32.5} fill="#000" fontFamily={FONT}>
        {p.title}
      </text>
      <text x={cx} y={p.xTitleY} textAnchor="middle" fontSize={p.xTitleSize} fill="#000" fontFamily={FONT}>
        {xTitle}
      </text>
      <text
        transform={`translate(${p.yTitleX},${cy}) rotate(-90)`}
        textAnchor="middle"
        fontSize={28}
        fill="#000"
        fontFamily={FONT}
      >
        {yTitle}
      </text>
    </g>
  );
}

export default function App() {
  return (
    <div style={{ position: "absolute", left: 0, top: 0, width: W, height: H, overflow: "hidden", background: "#fff" }}>
      <svg width={W} height={H} viewBox={`0 0 ${W} ${H}`} style={{ display: "block" }}>
        <rect x={0} y={0} width={W} height={H} fill="#ffffff" />
        {panels.map((p) => (
          <PanelView key={p.title} p={p} />
        ))}
      </svg>
    </div>
  );
}
